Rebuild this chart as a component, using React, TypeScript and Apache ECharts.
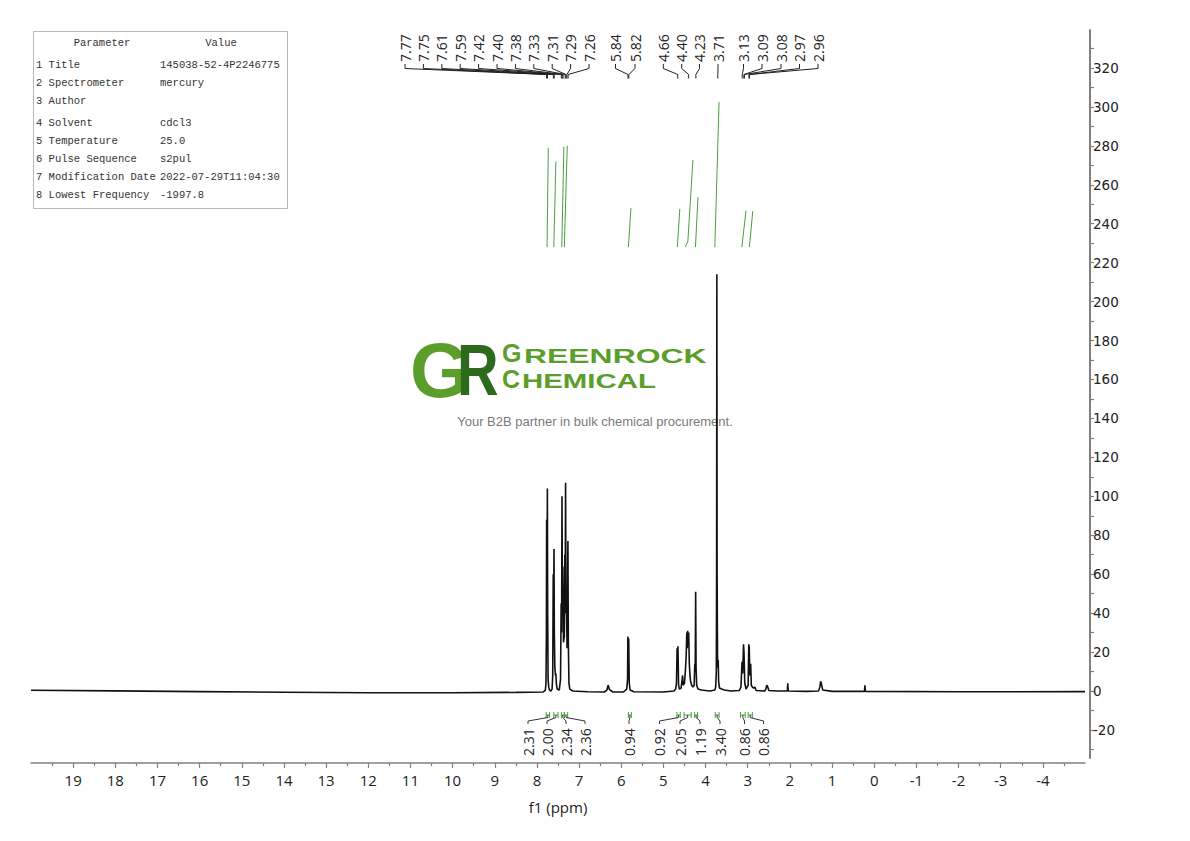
import React, { useEffect, useRef } from "react";
import * as echarts from "echarts";

// ---------- DATA ----------
// 1H NMR trace: [ppm, intensity]
const spectrum: [number, number][] = [
  [20, 0.4], [18, 0.1], [16, -0.3], [14, -0.6], [12, -0.9], [10, -0.9], [8.5, -0.7], [7.85, -0.5],
  [7.8, 0.5], [7.785, 4], [7.775, 30], [7.77, 88], [7.762, 42], [7.752, 104], [7.745, 40], [7.735, 6], [7.72, 2], [7.7, 0.5], [7.67, 0],
  [7.64, 1], [7.625, 8], [7.613, 60], [7.605, 38], [7.595, 73], [7.587, 30], [7.575, 12], [7.56, 8], [7.55, 9], [7.54, 4], [7.52, 1], [7.47, 0.5],
  [7.44, 6], [7.425, 45], [7.415, 30], [7.405, 100], [7.395, 42], [7.385, 64], [7.37, 25], [7.35, 28], [7.337, 70], [7.33, 45], [7.32, 107], [7.31, 40], [7.302, 48], [7.285, 22], [7.265, 77], [7.255, 25], [7.24, 4], [7.22, 1], [7.15, 0],
  [6.8, -0.4], [6.4, -0.5], [6.34, 0.5], [6.31, 3], [6.28, 0.8], [6.2, -0.5],
  [5.95, -0.5], [5.87, 1], [5.85, 6], [5.843, 28], [5.832, 18], [5.823, 27], [5.81, 4], [5.79, 0.5], [5.7, -0.4],
  [5.0, -0.5], [4.75, 0], [4.71, 1], [4.69, 4], [4.675, 22], [4.665, 18], [4.655, 23], [4.64, 3], [4.62, 1],
  [4.58, 1.5], [4.555, 6], [4.545, 8], [4.53, 3], [4.5, 4], [4.48, 10], [4.46, 18], [4.445, 30], [4.435, 22], [4.425, 31], [4.41, 24], [4.4, 30], [4.385, 14], [4.37, 8], [4.355, 5], [4.33, 3], [4.3, 2],
  [4.27, 3], [4.255, 14], [4.245, 12], [4.235, 51], [4.225, 12], [4.21, 3], [4.18, 1], [4.1, 0.5],
  [3.9, 0], [3.78, 0.5], [3.76, 2], [3.745, 10], [3.738, 60], [3.732, 214], [3.726, 60], [3.715, 12], [3.7, 16], [3.69, 5], [3.67, 1.5], [3.62, 1], [3.55, 0.5], [3.4, 0],
  [3.2, 0.3], [3.16, 2], [3.135, 15], [3.12, 9], [3.1, 24], [3.088, 20], [3.07, 4], [3.04, 1], [2.99, 3], [2.975, 24], [2.963, 22], [2.95, 8], [2.93, 14], [2.915, 3], [2.89, 2], [2.86, 1.5], [2.83, 2], [2.8, 0.3],
  [2.6, 0], [2.57, 1], [2.55, 3], [2.53, 2.5], [2.5, 0.3], [2.3, 0], [2.06, 0], [2.05, 4], [2.04, 0],
  [1.6, -0.2], [1.32, 0], [1.29, 2], [1.27, 5], [1.25, 3.5], [1.22, 0.5], [1.0, -0.2],
  [0.23, -0.2], [0.22, 3], [0.21, -0.2], [-2, -0.4], [-5, -0.3],
];

// Peak pick labels (ppm)
const peakLabels = [
  "7.77", "7.75", "7.61", "7.59", "7.42", "7.40", "7.38", "7.33", "7.31", "7.29", "7.26",
  "5.84", "5.82", "4.66", "4.40", "4.23", "3.71", "3.13", "3.09", "3.08", "2.97", "2.96",
];

// Integral curves: [ppm, level]
const integralCurves: [number, number][][] = [
  [[7.76, 228], [7.73, 279]],
  [[7.6, 228], [7.55, 272]],
  [[7.41, 228], [7.36, 279.5]],
  [[7.35, 228], [7.28, 280]],
  [[5.83, 228], [5.77, 248]],
  [[4.67, 228], [4.61, 247.6]],
  [[4.48, 228], [4.42, 231], [4.3, 272.7]],
  [[4.24, 228], [4.18, 253.6]],
  [[3.78, 228], [3.68, 302.5]],
  [[3.14, 228], [3.04, 246.7]],
  [[2.96, 228], [2.88, 246.5]],
];

// Integration ranges (ppm from, ppm to) and values
const integralRanges: [number, number][] = [
  [7.78, 7.7], [7.6, 7.5], [7.42, 7.35], [7.35, 7.27], [5.83, 5.76], [4.68, 4.6],
  [4.51, 4.34], [4.26, 4.19], [3.77, 3.68], [3.17, 3.06], [2.99, 2.89],
];
const integralValues = ["2.31", "2.00", "2.34", "2.36", "0.94", "0.92", "2.05", "1.19", "3.40", "0.86", "0.86"];

// Parameter table
const paramNames = [
  "1 Title", "2 Spectrometer", "3 Author", "4 Solvent", "5 Temperature",
  "6 Pulse Sequence", "7 Modification Date", "8 Lowest Frequency",
];
const paramValues = ["145038-52-4P2246775", "mercury", "", "cdcl3", "25.0", "s2pul", "2022-07-29T11:04:30", "-1997.8"];

// Axis ticks
const xLabelValues = [19, 18, 17, 16, 15, 14, 13, 12, 11, 10, 9, 8, 7, 6, 5, 4, 3, 2, 1, 0, -1, -2, -3, -4];
const xMinorValues = [19.5, 18.5, 17.5, 16.5, 15.5, 14.5, 13.5, 12.5, 11.5, 10.5, 9.5, 8.5, 7.5, 6.5, 5.5, 4.5, 3.5, 2.5, 1.5, 0.5, -0.5, -1.5, -2.5, -3.5, -4.5];
const yLabelValues = [-20, 0, 20, 40, 60, 80, 100, 120, 140, 160, 180, 200, 220, 240, 260, 280, 300, 320];
const yTickValues = [-30, -20, -10, 0, 10, 20, 30, 40, 50, 60, 70, 80, 90, 100, 110, 120, 130, 140, 150, 160, 170, 180, 190, 200, 210, 220, 230, 240, 250, 260, 270, 280, 290, 300, 310, 320, 330];

// ---------- LAYOUT (annotation positions, px) ----------
const peakLabelX = [405, 423.4, 441.8, 460.2, 478.6, 497, 515.4, 533.8, 552.2, 570.6, 589, 615.5, 635, 663.3, 681.7, 699.5, 718, 743.5, 762, 781, 799.5, 818];
const integralLabelX = [528, 547, 566, 585, 629, 659.5, 680, 700, 720, 744.5, 763.5];
const tableRowY = [65, 83, 101, 123, 141, 159, 177, 195];

const GREEN = "#4a9f3f";
const LOGO_LIGHT = "#5b9e2b";
const LOGO_DARK = "#2e6a1e";

export default function App() {
  const ref = useRef<HTMLDivElement>(null);

  useEffect(() => {
    if (!ref.current) return;
    const chart = echarts.init(ref.current, undefined, { renderer: "svg" });

    const labelFont = "Open Sans";

    const graphic: any[] = [
      // parameter table
      { type: "rect", shape: { x: 33.5, y: 31.5, width: 254, height: 177 }, style: { fill: "#fff", stroke: "#b8b8b8", lineWidth: 1 } },
      { type: "text", x: 102, y: 43, style: { text: "Parameter", fontFamily: "Liberation Mono", fontSize: 10.5, fill: "#333", align: "center", verticalAlign: "middle" } },
      { type: "text", x: 221, y: 43, style: { text: "Value", fontFamily: "Liberation Mono", fontSize: 10.5, fill: "#333", align: "center", verticalAlign: "middle" } },
      ...paramNames.map((n, i) => ({
        type: "text", x: 36, y: tableRowY[i],
        style: { text: n, fontFamily: "Liberation Mono", fontSize: 10.5, fill: "#333", align: "left", verticalAlign: "middle" },
      })),
      ...paramValues.map((v, i) => ({
        type: "text", x: 160, y: tableRowY[i],
        style: { text: v, fontFamily: "Liberation Mono", fontSize: 10.5, fill: "#333", align: "left", verticalAlign: "middle" },
      })),
      // logo
      { type: "text", x: 410, y: 370, style: { text: "G", fontFamily: "Liberation Sans", fontWeight: "bold", fontSize: 77, lineHeight: 58, fill: LOGO_LIGHT, align: "left", verticalAlign: "middle" } },
      { type: "text", x: 457, y: 370, scaleX: 0.8, style: { text: "R", fontFamily: "Liberation Sans", fontWeight: "bold", fontSize: 72, lineHeight: 54, fill: LOGO_DARK, align: "left", verticalAlign: "middle" } },
      { type: "text", x: 502, y: 353, style: { text: "G", fontFamily: "Liberation Sans", fontWeight: "bold", fontSize: 25, lineHeight: 20, fill: LOGO_LIGHT, align: "left", verticalAlign: "middle" } },
      { type: "text", x: 524, y: 356, scaleX: 1.52, style: { text: "REENROCK", fontFamily: "Liberation Sans", fontWeight: "bold", fontSize: 21, lineHeight: 16, fill: LOGO_LIGHT, align: "left", verticalAlign: "middle" } },
      { type: "text", x: 502, y: 379, style: { text: "C", fontFamily: "Liberation Sans", fontWeight: "bold", fontSize: 25, lineHeight: 20, fill: LOGO_LIGHT, align: "left", verticalAlign: "middle" } },
      { type: "text", x: 522, y: 380.5, scaleX: 1.4, style: { text: "HEMICAL", fontFamily: "Liberation Sans", fontWeight: "bold", fontSize: 21, lineHeight: 16, fill: LOGO_LIGHT, align: "left", verticalAlign: "middle" } },
      { type: "text", x: 595, y: 421, style: { text: "Your B2B partner in bulk chemical procurement.", fontFamily: "Liberation Sans", fontSize: 13, fill: "#7a7a7a", align: "center", verticalAlign: "middle" } },
    ];

    const axisCommon = {
      type: "value",
      min: -5,
      max: 20,
      inverse: true,
      offset: 5,
      position: "bottom",
      splitLine: { show: false },
    };

    const option: any = {
      animation: false,
      backgroundColor: "#ffffff",
      grid: { left: 31, right: 105, top: 30, bottom: 83, containLabel: false },
      xAxis: [
        {
          ...axisCommon,
          name: "f1 (ppm)",
          nameLocation: "middle",
          nameGap: 36,
          nameTextStyle: { fontFamily: labelFont, fontSize: 15, color: "#222" },
          axisLine: { show: true, onZero: false, lineStyle: { color: "#808080", width: 1.5 } },
          axisTick: { show: true, length: 5, customValues: xLabelValues, lineStyle: { color: "#808080", width: 1.2 } },
          axisLabel: { show: true, customValues: xLabelValues, margin: 9, fontFamily: labelFont, fontSize: 15, color: "#222" },
        },
        {
          ...axisCommon,
          axisLine: { show: false, onZero: false },
          axisTick: { show: true, length: 3, customValues: xMinorValues, lineStyle: { color: "#808080", width: 1.2 } },
          axisLabel: { show: false },
        },
      ],
      yAxis: {
        type: "value",
        position: "right",
        offset: 5,
        min: -34.4,
        max: 339.5,
        splitLine: { show: false },
        axisLine: { show: true, onZero: false, lineStyle: { color: "#808080", width: 2 } },
        axisTick: { show: true, length: 4, customValues: yTickValues, lineStyle: { color: "#808080", width: 1.2 } },
        axisLabel: { show: true, customValues: yLabelValues, margin: 3, fontFamily: "DejaVu Sans", fontSize: 13.5, color: "#222" },
      },
      graphic,
      series: [
        {
          type: "line",
          name: "spectrum",
          xAxisIndex: 0,
          data: spectrum,
          showSymbol: false,
          symbol: "none",
          smooth: false,
          lineStyle: { color: "#111", width: 1.6 },
          z: 5,
        },
        ...integralCurves.map((c, i) => ({
          type: "line",
          name: "integral" + i,
          xAxisIndex: 0,
          data: c,
          showSymbol: false,
          symbol: "none",
          lineStyle: { color: GREEN, width: 1 },
          z: 4,
        })),
        {
          type: "custom",
          name: "peakLabels",
          xAxisIndex: 0,
          coordinateSystem: "cartesian2d",
          clip: false,
          silent: true,
          data: peakLabels.map((l, i) => [parseFloat(l), 0, i]),
          encode: { x: 0, y: 1 },
          renderItem: (_p: any, api: any) => {
            const i = api.value(2);
            const px = api.coord([api.value(0), 0])[0];
            const lx = peakLabelX[i];
            return {
              type: "group",
              children: [
                {
                  type: "polyline",
                  shape: { points: [[lx, 64], [lx, 68.5], [px, 74.5], [px, 78.5]] },
                  style: { stroke: "#222", lineWidth: 1, fill: null },
                },
                {
                  type: "text",
                  x: lx,
                  y: 62,
                  rotation: Math.PI / 2,
                  style: { text: peakLabels[i], fontFamily: labelFont, fontSize: 14, fill: "#222", align: "left", verticalAlign: "middle" },
                },
              ],
            };
          },
          z: 6,
        },
        {
          type: "custom",
          name: "integrals",
          xAxisIndex: 0,
          coordinateSystem: "cartesian2d",
          clip: false,
          silent: true,
          data: integralRanges.map((r, i) => [r[0], r[1], 0, i]),
          encode: { x: [0, 1], y: 2 },
          renderItem: (_p: any, api: any) => {
            const i = api.value(3);
            const x1 = api.coord([api.value(0), 0])[0];
            const x2 = api.coord([api.value(1), 0])[0];
            const my = 715;
            const mx = (x1 + x2) / 2;
            const lx = integralLabelX[i];
            const g = { stroke: GREEN, lineWidth: 1 };
            return {
              type: "group",
              children: [
                { type: "line", shape: { x1, y1: my, x2, y2: my }, style: g },
                { type: "line", shape: { x1, y1: my - 3, x2: x1, y2: my + 3 }, style: g },
                { type: "line", shape: { x1: x2, y1: my - 3, x2, y2: my + 3 }, style: g },
                {
                  type: "polyline",
                  shape: { points: [[lx, 724], [lx, 721], [mx, 717.5], [mx, 715]] },
                  style: { stroke: "#333", lineWidth: 1, fill: null },
                },
                {
                  type: "text",
                  x: lx,
                  y: 756,
                  rotation: Math.PI / 2,
                  style: { text: integralValues[i], fontFamily: labelFont, fontSize: 14, fill: "#222", align: "left", verticalAlign: "middle" },
                },
              ],
            };
          },
          z: 6,
        },
      ],
    };

    chart.setOption(option);
    return () => chart.dispose();
  }, []);

  return <div ref={ref} style={{ position: "fixed", left: 0, top: 0, width: 1190, height: 841, background: "#fff" }} />;
}
